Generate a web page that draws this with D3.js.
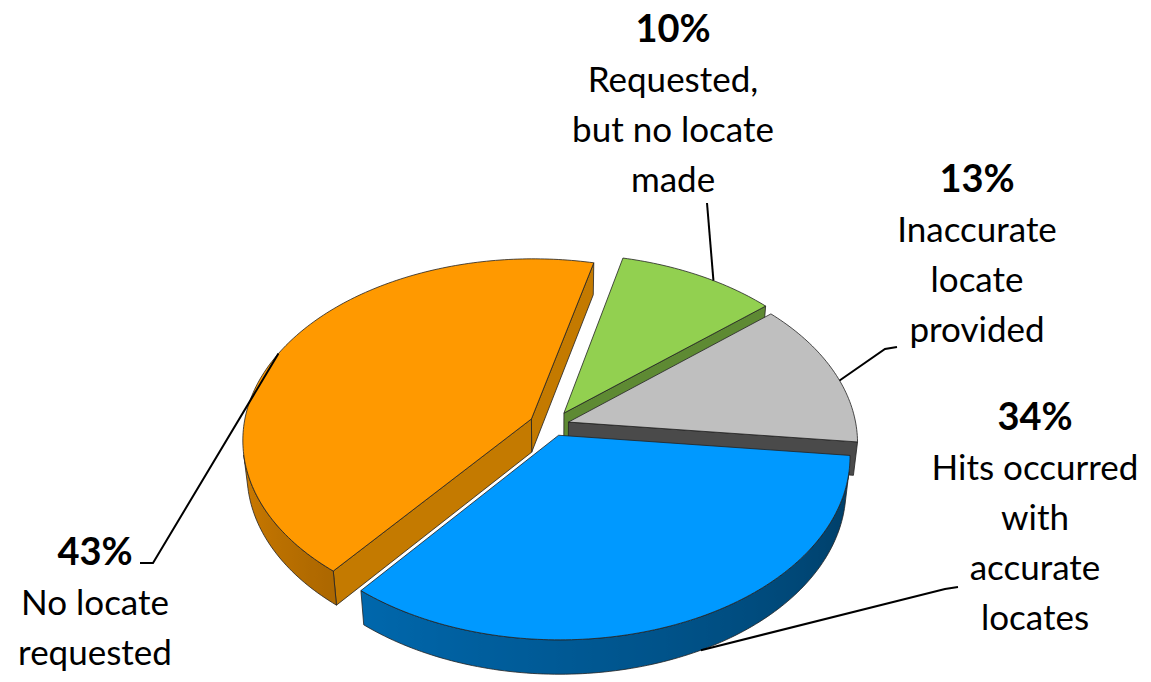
<!DOCTYPE html>
<html>
<head>
<meta charset="utf-8">
<script src="https://cdn.jsdelivr.net/npm/d3@7"></script>
<style>
  body { margin: 0; background: #fff; }
  text { font-family: Lato, "Open Sans", sans-serif; fill: #000; }
</style>
</head>
<body>
<svg id="chart" width="1151" height="682"></svg>
<script>
// slices, clockwise from the top of the pie
var values = [10, 13, 34, 43];
var labels = [
    ["Requested,", "but no locate", "made"],
    ["Inaccurate", "locate", "provided"],
    ["Hits occurred", "with", "accurate", "locates"],
    ["No locate", "requested"]
];
var topColors = ["#92D050", "#BFBFBF", "#0099FF", "#FF9900"];
var sideColors = ["#5E8A33", "#4A4A4A", "#005C99", "#C47A00"];
var explode = [0.08, 0.06, 0.06, 0.08];

// label blocks (centre x, baseline of the % line) and leader elbows
var labelPos = [[673, 42], [977, 192], [1035, 430], [95, 565]];
var leaderElbows = [[[707, 203]], [[897, 347], [885, 349]], [[958, 587], [945, 589]], [[140, 563], [153, 563]]];
// where the leader touches the slice: fraction along the arc, top or bottom rim
var anchorAt = [0.6, 0.57, 0.467, 0.477];
var anchorRim = ["top", "top", "bottom", "top"];

// 3d view of the pie (radius = 1)
var D = 7, F = 2000, H = 0.15;
var sinP = 0.63, cosP = Math.sqrt(1 - sinP * sinP);
var cx = 552, cy = 442;
var cam = [0, D * sinP, D * cosP];
var step = Math.PI / 180;
var startAngle = 13.5 * Math.PI / 180;

function project(p) {
    var u = p[1] * cosP - p[2] * sinP;
    var d = D - (p[2] * cosP + p[1] * sinP);
    return [cx + F * p[0] / d, cy - F * u / d];
}
function depth(p) { return D - (p[2] * cosP + p[1] * sinP); }
function facing(n, p) {
    return n[0] * (cam[0] - p[0]) + n[1] * (cam[1] - p[1]) + n[2] * (cam[2] - p[2]);
}
function centroid(pts) {
    return [d3.mean(pts, function(p) { return p[0]; }), d3.mean(pts, function(p) { return p[1]; }), d3.mean(pts, function(p) { return p[2]; })];
}

var shade = d3.scaleLinear().domain([90, 220, 270]).range([0.37, 0.68, 0.85]).clamp(true);

var svg = d3.select("#chart");
var defs = svg.append("defs");
var line = d3.line().curve(d3.curveLinearClosed);

var arcs = d3.pie().sort(null).startAngle(startAngle).endAngle(startAngle + 2 * Math.PI)(values);

var faces = [], tops = [], anchors = [];
arcs.forEach(function(a, i) {
    var mid = (a.startAngle + a.endAngle) / 2;
    var ox = explode[i] * Math.sin(mid), oz = -explode[i] * Math.cos(mid);
    var yT = H / 2, yB = -H / 2;
    function rim(t, y) { return [ox + Math.sin(t), y, oz - Math.cos(t)]; }
    var n = Math.ceil((a.endAngle - a.startAngle) / step);
    var ts = d3.range(n + 1).map(function(k) { return a.startAngle + (a.endAngle - a.startAngle) * k / n; });

    tops.push({pts: [[ox, yT, oz]].concat(ts.map(function(t) { return rim(t, yT); })), fill: topColors[i]});
    var at = a.startAngle + (a.endAngle - a.startAngle) * anchorAt[i];
    anchors.push(project(rim(at, anchorRim[i] == "top" ? yT : yB)));

    // flat cut faces
    [[a.startAngle, a.startAngle - Math.PI / 2], [a.endAngle, a.endAngle + Math.PI / 2]].forEach(function(r) {
        var normal = [Math.sin(r[1]), 0, -Math.cos(r[1])];
        var pts = [[ox, yT, oz], rim(r[0], yT), rim(r[0], yB), [ox, yB, oz]];
        var c = centroid(pts);
        if (facing(normal, c) > 0) faces.push({pts: pts, fill: sideColors[i], depth: depth(c)});
    });

    // curved outer side, only the part turned to the viewer
    var vis = ts.map(function(t) { return facing([Math.sin(t), 0, -Math.cos(t)], rim(t, 0)) > 0; });
    var runs = [], cur = null;
    ts.forEach(function(t, k) {
        if (vis[k]) { if (!cur) { cur = []; runs.push(cur); } cur.push(t); }
        else cur = null;
    });
    runs.forEach(function(run, r) {
        if (run.length < 2) return;
        var topPts = run.map(function(t) { return rim(t, yT); });
        var botPts = run.map(function(t) { return rim(t, yB); }).reverse();
        var pts = topPts.concat(botPts);
        var xs = topPts.map(function(p) { return project(p)[0]; });
        var x0 = d3.min(xs), x1 = d3.max(xs);
        var id = "side" + i + "_" + r;
        var stops = run.map(function(t, k) {
            var deg = (t * 180 / Math.PI) % 360;
            return {offset: x1 > x0 ? (xs[k] - x0) / (x1 - x0) : 0,
                    color: d3.interpolateRgb("#000", topColors[i])(shade(deg))};
        }).sort(function(p, q) { return p.offset - q.offset; });
        var grad = defs.append("linearGradient").attr("id", id)
            .attr("gradientUnits", "userSpaceOnUse")
            .attr("x1", x0).attr("x2", x1).attr("y1", 0).attr("y2", 0);
        grad.selectAll("stop").data(stops).enter().append("stop")
            .attr("offset", function(s) { return s.offset; })
            .attr("stop-color", function(s) { return s.color; });
        faces.push({pts: pts, fill: "url(#" + id + ")", depth: depth(centroid(pts))});
    });
});

faces.sort(function(p, q) { return q.depth - p.depth; });

var pie = svg.append("g");
pie.selectAll("path.side").data(faces).enter().append("path")
    .attr("class", "side")
    .attr("d", function(f) { return line(f.pts.map(project)); })
    .attr("fill", function(f) { return f.fill; })
    .attr("stroke", "#222")
    .attr("stroke-width", 0.8)
    .attr("stroke-linejoin", "round");
pie.selectAll("path.top").data(tops).enter().append("path")
    .attr("class", "top")
    .attr("d", function(f) { return line(f.pts.map(project)); })
    .attr("fill", function(f) { return f.fill; })
    .attr("stroke", "#222")
    .attr("stroke-width", 0.8)
    .attr("stroke-linejoin", "round");

// leader lines
var leader = d3.line();
svg.selectAll("path.leader").data(arcs).enter().append("path")
    .attr("class", "leader")
    .attr("d", function(a, i) { return leader(leaderElbows[i].concat([anchors[i]])); })
    .attr("fill", "none")
    .attr("stroke", "#000")
    .attr("stroke-width", 2);

// labels
var lab = svg.selectAll("g.label").data(arcs).enter().append("g")
    .attr("class", "label")
    .attr("text-anchor", "middle")
    .attr("transform", function(a, i) { return "translate(" + labelPos[i][0] + "," + labelPos[i][1] + ")"; });
lab.append("text")
    .attr("font-size", 38)
    .attr("font-weight", "bold")
    .text(function(a) { return a.value + "%"; });
lab.each(function(a, i) {
    d3.select(this).selectAll("text.line").data(labels[i]).enter().append("text")
        .attr("class", "line")
        .attr("y", function(d, k) { return 50 * (k + 1); })
        .attr("font-size", 35)
        .text(function(d) { return d; });
});
</script>
</body>
</html>
